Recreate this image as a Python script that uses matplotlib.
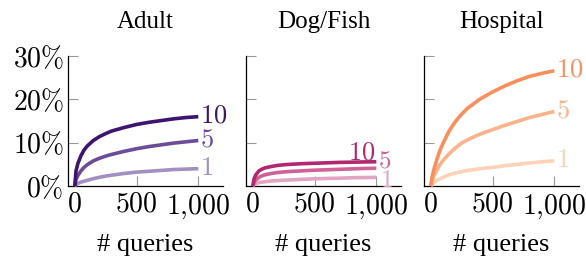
import numpy as np
import matplotlib
matplotlib.use("Agg")
from matplotlib import pyplot as plt

plt.rcParams['font.family'] = ['Liberation Serif', 'DejaVu Serif']
plt.rcParams['mathtext.fontset'] = 'cm'

# number of queries (x) and success rate in % for k = 10, 5, 1
queries = [0, 10, 25, 50, 75, 100, 150, 200, 250, 300, 400, 500, 600, 700, 800, 900, 1000]

adult_10 = [0, 3.5, 5.2, 7.0, 8.3, 9.2, 10.5, 11.4, 12.1, 12.7, 13.5, 14.2, 14.7, 15.1, 15.5, 15.8, 16.0]
adult_5 = [0, 1.5, 2.4, 3.5, 4.3, 4.9, 5.8, 6.4, 6.9, 7.3, 8.0, 8.6, 9.1, 9.5, 9.9, 10.2, 10.5]
adult_1 = [0, 0.3, 0.6, 0.9, 1.1, 1.3, 1.7, 2.0, 2.3, 2.5, 2.9, 3.2, 3.4, 3.6, 3.8, 3.9, 4.0]

dog_10 = [0, 1.6, 2.6, 3.5, 3.9, 4.2, 4.5, 4.75, 4.9, 5.0, 5.15, 5.25, 5.35, 5.45, 5.5, 5.55, 5.6]
dog_5 = [0, 0.8, 1.4, 2.0, 2.35, 2.6, 2.9, 3.1, 3.25, 3.35, 3.5, 3.65, 3.75, 3.85, 3.95, 4.05, 4.1]
dog_1 = [0, 0.3, 0.5, 0.8, 0.9, 1.0, 1.15, 1.25, 1.35, 1.4, 1.55, 1.65, 1.75, 1.8, 1.9, 1.95, 2.0]

hosp_10 = [0, 2.0, 3.8, 6.2, 8.3, 9.9, 12.8, 14.9, 16.6, 18.0, 20.1, 21.7, 23.1, 24.3, 25.3, 26.0, 26.6]
hosp_5 = [0, 1.2, 2.3, 3.7, 5.0, 5.9, 7.5, 8.8, 9.9, 10.7, 12.0, 13.0, 14.0, 14.9, 15.8, 16.5, 17.2]
hosp_1 = [0, 0.4, 0.8, 1.3, 1.7, 2.0, 2.6, 3.0, 3.3, 3.6, 4.0, 4.3, 4.7, 5.0, 5.3, 5.6, 5.8]

titles = ['Adult', 'Dog/Fish', 'Hospital']
k_labels = ['10', '5', '1']
yticks = [0, 10, 20, 30]
xticks = [0, 500, 1000]
xtick_labels = [r'$0$', r'$500$', r'$1{,}000$']

panels = [
    ([adult_10, adult_5, adult_1], ['#3d1470', '#6c4c98', '#a390c3']),
    ([dog_10, dog_5, dog_1], ['#b2276f', '#cf6197', '#e3a3c2']),
    ([hosp_10, hosp_5, hosp_1], ['#fb8f5b', '#fcb38c', '#fdd2b8']),
]

# where the k labels sit (x, y, ha, size); y None = at the line end
label_pos = [
    [(1010, None, 'left', 19), (1010, None, 'left', 19), (1010, None, 'left', 19)],
    [(990, 7.6, 'right', 19), (1010, 5.7, 'left', 18), (1030, 1.2, 'left', 18)],
    [(1010, None, 'left', 19), (1010, None, 'left', 19), (1010, None, 'left', 19)],
]

fig = plt.figure(figsize=(5.86, 2.6), dpi=100)
lefts = [68 / 586, 246 / 586, 424 / 586]
width = 155 / 586

for i, (series, colors) in enumerate(panels):
    ax = fig.add_axes([lefts[i], 74 / 260, width, 130 / 260])
    for j, (y, c) in enumerate(zip(series, colors)):
        ax.plot(queries, y, color=c, lw=2.6, clip_on=False,
                solid_capstyle='butt', solid_joinstyle='round',
                zorder=3 - j * 0.1)
        lx, ly, ha, fs = label_pos[i][j]
        if ly is None:
            ly = y[-1]
        ax.text(lx, ly, '$' + k_labels[j] + '$', color=c, fontsize=fs,
                ha=ha, va='center')
    ax.set_xlim(-55, 1200)
    ax.set_ylim(0, 30)
    ax.set_xticks(xticks)
    ax.set_xticklabels(xtick_labels, fontsize=20)
    ax.set_yticks(yticks)
    if i == 0:
        ax.set_yticklabels([r'$%d\%%$' % t for t in yticks], fontsize=20)
    else:
        ax.set_yticklabels([])
    ax.tick_params(direction='in', length=7, color='#999999', width=0.8)
    ax.tick_params(axis='x', pad=5)
    ax.tick_params(axis='y', pad=3)
    for s in ['top', 'right']:
        ax.spines[s].set_visible(False)
    for s in ['left', 'bottom']:
        ax.spines[s].set_linewidth(0.9)
    ax.set_title(titles[i], fontsize=18, pad=20)
    ax.set_xlabel('# queries', fontsize=19, labelpad=9)

fig.savefig('out.png', dpi=100)
